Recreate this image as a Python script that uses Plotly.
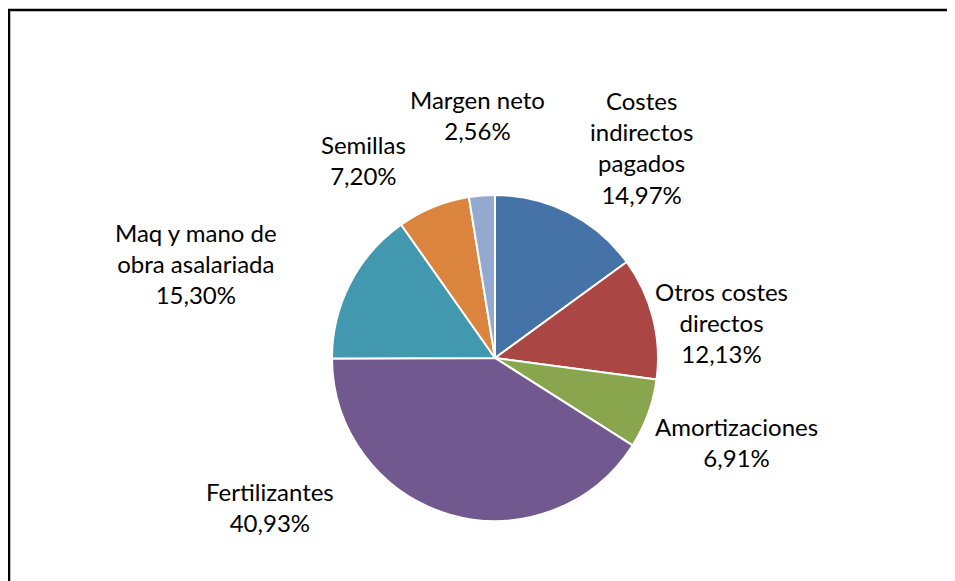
import plotly.graph_objects as go

# Cost structure, clockwise from 12 o'clock
categories = [
    "Costes indirectos pagados",
    "Otros costes directos",
    "Amortizaciones",
    "Fertilizantes",
    "Maq y mano de obra asalariada",
    "Semillas",
    "Margen neto",
]
values = [14.97, 12.13, 6.91, 40.93, 15.30, 7.20, 2.56]
label_text = [
    "Costes<br>indirectos<br>pagados<br>14,97%",
    "Otros costes<br>directos<br>12,13%",
    "Amortizaciones<br>6,91%",
    "Fertilizantes<br>40,93%",
    "Maq y mano de<br>obra asalariada<br>15,30%",
    "Semillas<br>7,20%",
    "Margen neto<br>2,56%",
]
colors = ["#4572A7", "#AA4643", "#89A54E", "#71588F", "#4198AF", "#DB843D", "#93A9CF"]

W, H = 955, 581
OFF = 8  # page body margin shifts the figure by 8px
cx, cy, r = 495 - OFF, 358 - OFF, 163

# label centres in reference pixels (layout only)
label_pos = [(641, 147), (721, 322), (736, 442), (270, 507), (196, 263), (363, 160), (477, 115)]

fig = go.Figure(go.Pie(
    labels=categories,
    values=values,
    sort=False,
    direction="clockwise",
    rotation=0,
    marker=dict(colors=colors, line=dict(color="white", width=2)),
    textinfo="none",
    hoverinfo="label+percent",
    showlegend=False,
    domain=dict(x=[(cx - r) / W, (cx + r) / W], y=[1 - (cy + r) / H, 1 - (cy - r) / H]),
))

for txt, (px_, py_) in zip(label_text, label_pos):
    fig.add_annotation(
        x=(px_ - OFF) / W, y=1 - (py_ - OFF) / H, xref="paper", yref="paper",
        xanchor="center", yanchor="middle",
        text=txt, showarrow=False, align="center",
        font=dict(family="Lato, 'Open Sans', sans-serif", size=24, color="black"),
    )

# chart frame
fig.add_shape(type="rect", xref="paper", yref="paper",
              x0=1 / W, x1=1.05, y0=-0.05, y1=1 - 2 / H,
              line=dict(color="black", width=2.5))

fig.update_layout(
    width=W, height=H,
    margin=dict(l=0, r=0, t=0, b=0),
    paper_bgcolor="white",
    plot_bgcolor="white",
)

fig.write_html("out.html")
